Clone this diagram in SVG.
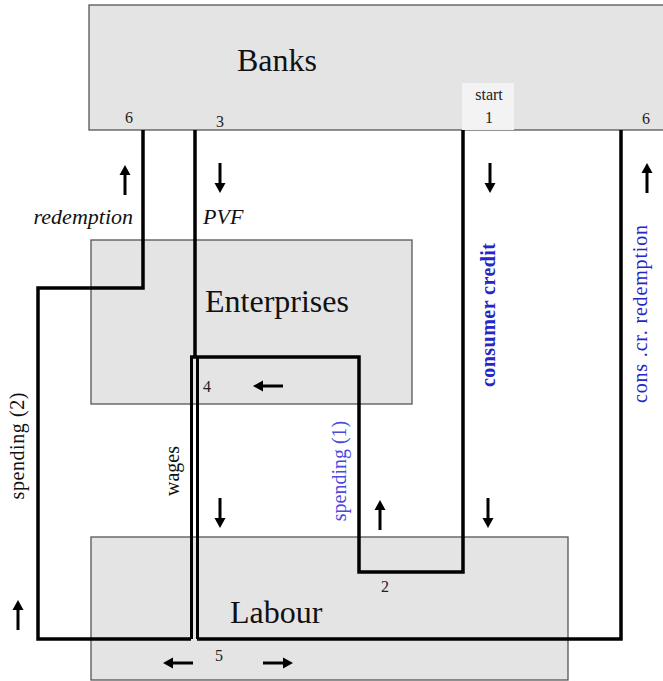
<svg xmlns="http://www.w3.org/2000/svg" xmlns:xlink="http://www.w3.org/1999/xlink" width="663" height="681" viewBox="0 0 663 681">
<style>
.box{fill:#e4e4e4;stroke:#555;stroke-width:1.3}
.big{font-family:"Liberation Serif","Times New Roman",serif;font-size:32px;fill:#111}
.num{font-family:"Liberation Serif","Times New Roman",serif;font-size:16px;fill:#222;text-anchor:middle}
.ital{font-family:"Liberation Serif","Times New Roman",serif;font-size:22px;font-style:italic;fill:#111}
.rot{font-family:"Liberation Serif","Times New Roman",serif;font-size:20px;fill:#111;text-anchor:middle}
.blue{fill:#2626c8}
.conn{fill:none;stroke:#000;stroke-width:3.5;stroke-linejoin:miter}
.thin{fill:none;stroke:#000;stroke-width:3}
</style>
<defs>
<g id="up">
<line x1="0" y1="30" x2="0" y2="8" stroke="#000" stroke-width="3"/>
<path d="M0,0 L-5.5,10 L5.5,10 Z" fill="#000"/>
</g>
</defs>
<rect width="663" height="681" fill="#fff"/>

<g id="banks">
<rect class="box" x="89" y="5" width="580" height="125"/>
<rect x="462" y="83" width="52" height="47" fill="#f3f3f3"/>
<text class="big" x="237" y="71">Banks</text>
<text class="num" x="129" y="123">6</text>
<text class="num" x="220" y="127">3</text>
<text class="num" x="489" y="100" font-size="15">start</text>
<text class="num" x="489" y="123" font-size="15">1</text>
<text class="num" x="646" y="124">6</text>
</g>

<g id="enterprises">
<rect class="box" x="91" y="240" width="321" height="164"/>
<text class="big" x="205" y="312">Enterprises</text>
<text class="num" x="207" y="392" font-size="15">4</text>
</g>

<g id="labour">
<rect class="box" x="91" y="537" width="477" height="143"/>
<text class="big" x="230" y="623">Labour</text>
<text class="num" x="385" y="592" font-size="14">2</text>
<text class="num" x="219" y="661" font-size="15">5</text>
</g>

<g id="connectors">
<path class="conn" d="M191,639 H38 V288 H143 V130"/>
<path class="conn" d="M197,639 H621 V130"/>
<path class="conn" d="M195,130 V357"/>
<path class="thin" d="M191.5,356 V639"/>
<path class="thin" d="M197.5,357 V639"/>
<path class="conn" d="M190,357 H359 V572 H463 V130"/>
</g>

<g id="arrows">
<use xlink:href="#up" transform="translate(125,165)"/>
<use xlink:href="#up" transform="translate(220,193) rotate(180)"/>
<use xlink:href="#up" transform="translate(490,193) rotate(180)"/>
<use xlink:href="#up" transform="translate(647,163)"/>
<use xlink:href="#up" transform="translate(253,386) rotate(-90)"/>
<use xlink:href="#up" transform="translate(220,528) rotate(180)"/>
<use xlink:href="#up" transform="translate(380,500)"/>
<use xlink:href="#up" transform="translate(488,528) rotate(180)"/>
<use xlink:href="#up" transform="translate(18,600)"/>
<use xlink:href="#up" transform="translate(163,663) rotate(-90)"/>
<use xlink:href="#up" transform="translate(293,663) rotate(90)"/>
</g>

<g id="labels">
<text class="ital" x="133" y="224" text-anchor="end">redemption</text>
<text class="ital" x="203" y="224">PVF</text>
<text class="rot" transform="translate(24,446) rotate(-90)" textLength="107">spending (2)</text>
<text class="rot" transform="translate(179,471) rotate(-90)">wages</text>
<text class="rot" transform="translate(346,471) rotate(-90)" font-size="17" fill="#4a4ade" style="fill:#4a4ade">spending (1)</text>
<text class="rot blue" transform="translate(495,315) rotate(-90)" font-weight="bold" textLength="144">consumer credit</text>
<text class="rot blue" transform="translate(647,314) rotate(-90)" textLength="178">cons .cr. redemption</text>
</g>
</svg>
